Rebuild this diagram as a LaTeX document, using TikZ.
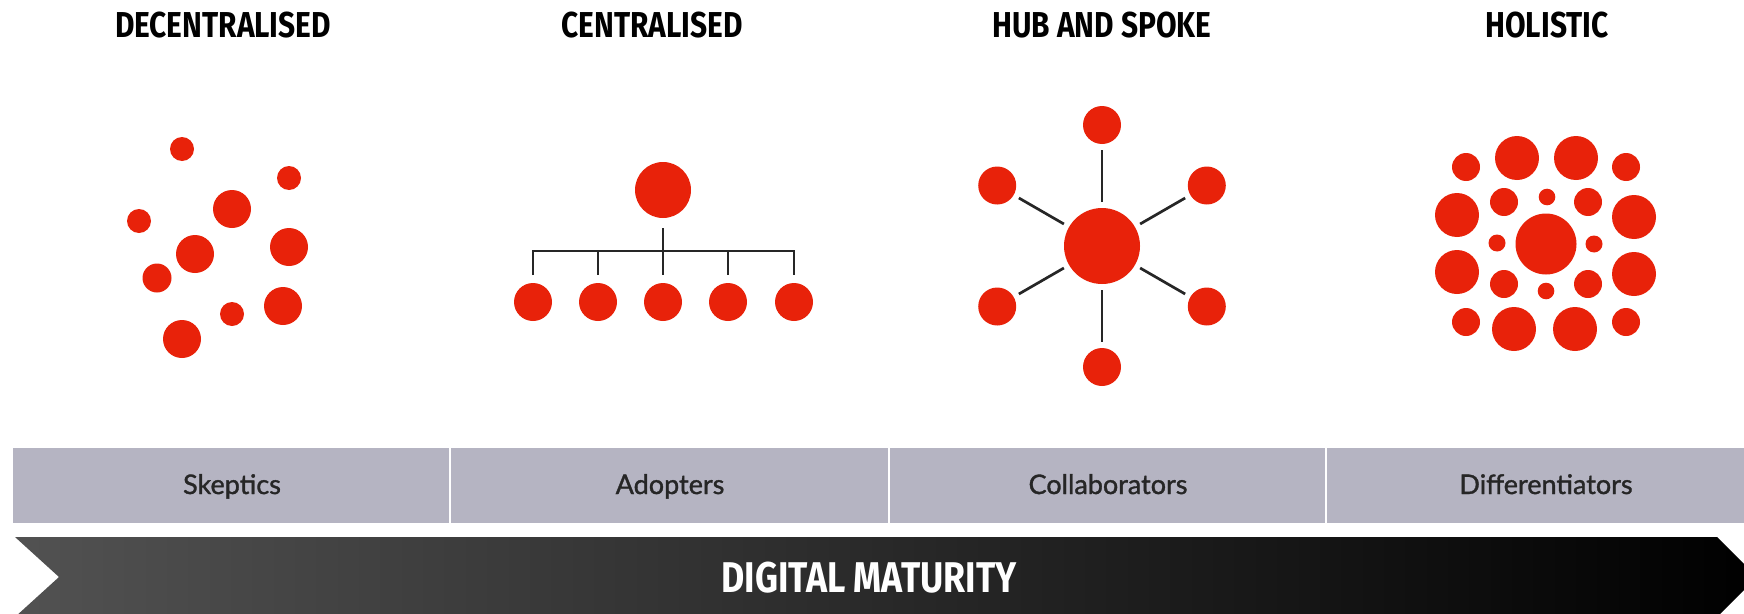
\documentclass[tikz,border=0pt]{standalone}
\usepackage{fontspec}
\setmainfont{Lato}[FakeBold=1.3]
\newfontfamily\headfont{Fira Sans}[FakeStretch=0.83]
\definecolor{dotred}{RGB}{232,34,10}
\definecolor{bandgray}{RGB}{181,180,194}
\tikzset{
	dot/.style={circle,fill=dotred,inner sep=0,outer sep=0,minimum size=#1},
	link/.style={line width=2.7pt,black!85},
	head/.style={font=\headfont\bfseries\fontsize{36}{36}\selectfont,anchor=base},
	cell/.style={font=\fontsize{27}{27}\selectfont,text=black!85,anchor=base},
}
\begin{document}
\begin{tikzpicture}[x=1pt,y=-1pt]
	\useasboundingbox (0,0) rectangle (1744,613);
	\clip (0,0) rectangle (1744,613);
	% titles
	\node[head] (t1) at (223,37) {DECENTRALISED};
	\node[head] (t2) at (652,37) {CENTRALISED};
	\node[head] (t3) at (1102,37) {HUB AND SPOKE};
	\node[head] (t4) at (1547,37) {HOLISTIC};
	% decentralised
	\foreach \x/\y/\r [count=\i] in {182/149/12,289/178/12,139/221/12,232/209/19,195/254/19,289/247/19,157/278/14.5,232/314/12,283/306/19,182/339/19}
		\node[dot=2*\r] (d\i) at (\x,\y) {};
	% centralised
	\node[dot=56] (c0) at (663,190) {};
	\foreach \x [count=\i] in {533,598,663,728,794}
		\node[dot=38] (c\i) at (\x,302) {};
	\coordinate (bar) at (663,251);
	\draw[link,shorten <=8pt,shorten >=8pt] (c1) -- (c1 |- bar) -- (c5 |- bar) -- (c5);
	\draw[link,shorten <=10pt,shorten >=8pt] (c0) -- (c3);
	\draw[link,shorten >=8pt] (c2 |- bar) -- (c2);
	\draw[link,shorten >=8pt] (c4 |- bar) -- (c4);
	% hub and spoke
	\node[dot=76] (hub) at (1102,246) {};
	\begin{scope}[shift={(1102,246)}]
		\foreach \a in {90,30,-30,-90,-150,150}
			\node[dot=38] (h\a) at (\a:121) {};
	\end{scope}
	\foreach \a in {90,30,-30,-90,-150,150}
		\draw[link,shorten <=6pt,shorten >=6pt] (hub) -- (h\a);
	% holistic
	\node[dot=61] (o0) at (1546,244) {};
	\foreach \x/\y/\r [count=\i] in {1466/167/14,1517/158/22,1576/158/22,1626/167/14,1457/215/22,1504/202/14,1547/197/8.3,1588/202/14,1634/217/22,1497/243/8.5,1594/244/8.5,1457/272/22,1504/284/14,1546/291/8.3,1588/284/14,1634/274/22,1466/322/14,1514/329/22,1575/329/22,1626/322/14}
		\node[dot=2*\r] (o\i) at (\x,\y) {};
	% band
	\fill[bandgray] (13,448) rectangle (1764,523);
	\foreach \x in {450,889,1326}
		\draw[white,line width=2pt] (\x,448) -- (\x,523);
	\node[cell] (s1) at (232,494) {Skeptics};
	\node[cell] (s2) at (670,494) {Adopters};
	\node[cell] (s3) at (1108,494) {Collaborators};
	\node[cell] (s4) at (1546,494) {Differentiators};
	% arrow
	\shade[left color=black!68,right color=black,middle color=black!84]
		(15,537) -- (1717,537) -- (1757,577) -- (1717,617) -- (15,617) -- (59,577) -- cycle;
	\node[head,font=\headfont\bfseries\fontsize{43}{43}\selectfont,text=white] (dm) at (869,592) {DIGITAL MATURITY};
\end{tikzpicture}
\end{document}
